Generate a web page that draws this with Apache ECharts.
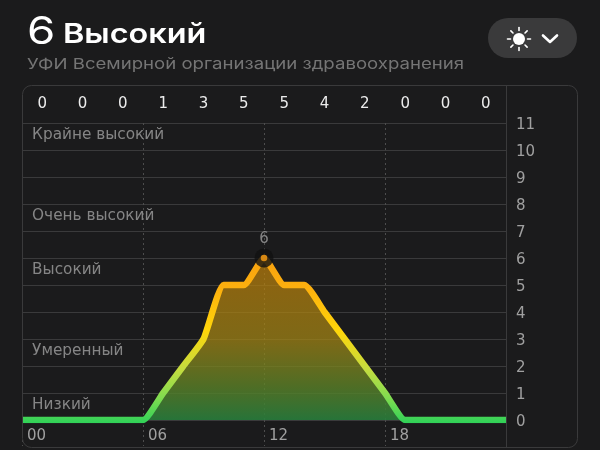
<!DOCTYPE html>
<html><head><meta charset="utf-8">
<style>html,body{margin:0;padding:0;background:#1b1b1c}#c{width:600px;height:450px}</style>
<script src="https://cdn.jsdelivr.net/npm/echarts@6/dist/echarts.min.js"></script>
</head><body><div id="c"></div>
<script>
const hours = [0,1,2,3,4,5,6,7,8,9,10,11,12,13,14,15,16,17,18,19,20,21,22,23,24];
const uvIndex = [0,0,0,0,0,0,0,1,2,3,5,5,6,5,5,4,3,2,1,0,0,0,0,0,0];
const twoHourCounts = ['0','0','0','1','3','5','5','4','2','0','0','0'];
const peak = [12,6];
const bandNames = ['Крайне высокий','Очень высокий','Высокий','Умеренный','Низкий'];
const bandLevels = [10.6,7.6,5.6,2.6,0.6];
const titleValue = '6';
const titleText = 'Высокий';
const subtitle = 'УФИ Всемирной организации здравоохранения';
const FONT = 'Inter, "Noto Sans", sans-serif';
const WIDE = '"DejaVu Sans", sans-serif';
const BG = '#1b1b1c', LINE = '#3a3a3b', GREY = '#a0a0a0';

const chart = echarts.init(document.getElementById('c'), null, {renderer:'canvas'});
const rays = [];
for (let i=0;i<8;i++){
  const a = i*Math.PI/4;
  rays.push({type:'line',silent:true,z:11,shape:{x1:519+Math.cos(a)*8.5,y1:39+Math.sin(a)*8.5,x2:519+Math.cos(a)*11.5,y2:39+Math.sin(a)*11.5},
    style:{stroke:'#fff',lineWidth:1.6,lineCap:'round'}});
}
chart.setOption({
  backgroundColor: BG,
  animation:false,
  textStyle:{fontFamily:FONT},
  grid:{left:22,right:94,top:123,bottom:30,containLabel:false},
  xAxis:[
    {type:'value',min:0,max:24,interval:6,position:'bottom',
      axisLine:{show:false},
      axisTick:{show:true,length:26,lineStyle:{color:'#4d4d4d',type:[2,3],width:1}},
      splitLine:{show:true,lineStyle:{color:'#4d4d4d',type:[2,3],width:1}},
      axisLabel:{color:GREY,fontSize:15,fontFamily:WIDE,margin:9,align:'left',padding:[0,0,0,5],
        formatter:v=>v===24?'':String(v).padStart(2,'0')}},
    {type:'category',data:twoHourCounts,position:'top',boundaryGap:true,
      axisLine:{show:false},axisTick:{show:false},splitLine:{show:false},
      axisLabel:{color:'#ececec',fontSize:15,fontFamily:WIDE,margin:11,interval:0}}
  ],
  yAxis:{type:'value',min:0,max:11,interval:1,position:'right',
    axisLine:{show:false},axisTick:{show:false},
    splitLine:{lineStyle:{color:LINE,width:1}},
    axisLabel:{margin:10,formatter:v=>'{n|'+v+'}',
      rich:{n:{color:GREY,fontSize:15,fontFamily:WIDE,padding:[4,0,0,0]}}}},
  series:[
    {type:'line',xAxisIndex:0,data:hours.map((h,i)=>[h,uvIndex[i]]),smooth:0.16,showSymbol:false,z:3,
      lineStyle:{width:6.5,cap:'butt',join:'round',
        color:new echarts.graphic.LinearGradient(0,0,0,1,[
          {offset:0,color:'#f7a00f'},{offset:0.2,color:'#fdb00e'},{offset:0.45,color:'#ffd60a'},
          {offset:0.68,color:'#c4dc40'},{offset:0.85,color:'#80dc50'},{offset:1,color:'#2fd158'}])},
      areaStyle:{opacity:1,origin:'start',
        color:new echarts.graphic.LinearGradient(0,0,0,1,[
          {offset:0,color:'rgba(190,125,10,0.72)'},{offset:0.5,color:'rgba(165,135,20,0.72)'},
          {offset:0.8,color:'rgba(90,130,40,0.8)'},{offset:1,color:'rgba(40,125,60,0.9)'}])}},
    {type:'scatter',xAxisIndex:0,data:[peak],symbolSize:19,z:4,silent:true,
      itemStyle:{color:'#121212'}},
    {type:'scatter',xAxisIndex:0,data:[peak],symbolSize:6.5,z:5,silent:true,
      itemStyle:{color:'#fb9f14'},
      label:{show:true,position:'top',distance:8,color:GREY,fontSize:15,fontFamily:WIDE,formatter:p=>String(p.value[1])}},
    {type:'scatter',xAxisIndex:0,data:bandLevels.map((l,i)=>({value:[0.5,l],name:bandNames[i]})),symbolSize:0,z:2,silent:true,
      label:{show:true,position:'right',distance:0,offset:[0,1],color:GREY,fontSize:15.3,fontFamily:WIDE,fontWeight:400,formatter:p=>p.name}}
  ],
  graphic:[
    {type:'text',silent:true,z:12,x:27,y:14,scaleX:1.2,style:{text:titleValue,fill:'#fff',font:'400 38px Inter',verticalAlign:'top'}},
    {type:'text',silent:true,z:12,x:63,y:21,scaleX:1.2,style:{text:titleText,fill:'#fff',font:'600 27px Inter',verticalAlign:'top'}},
    {type:'text',silent:true,z:12,x:27,y:57,scaleX:1.24,style:{text:subtitle,fill:'#757575',font:'400 15px Inter',verticalAlign:'top'}},
    {type:'rect',silent:true,z:10,shape:{x:22.5,y:85.5,width:555,height:362,r:9},style:{fill:'none',stroke:LINE,lineWidth:1}},
    {type:'line',silent:true,z:10,shape:{x1:506.5,y1:85,x2:506.5,y2:447},style:{stroke:LINE,lineWidth:1}},
    {type:'rect',silent:true,z:10,shape:{x:488,y:18,width:89,height:40,r:20},style:{fill:'#3a3a3b'}},
    {type:'circle',silent:true,z:11,shape:{cx:519,cy:39,r:6},style:{fill:'#fff'}},
    ...rays,
    {type:'polyline',silent:true,z:11,shape:{points:[[543,35.5],[550,42],[557,35.5]]},style:{fill:'none',stroke:'#fff',lineWidth:2.6,lineCap:'round',lineJoin:'round'}}
  ]
});
</script></body></html>
